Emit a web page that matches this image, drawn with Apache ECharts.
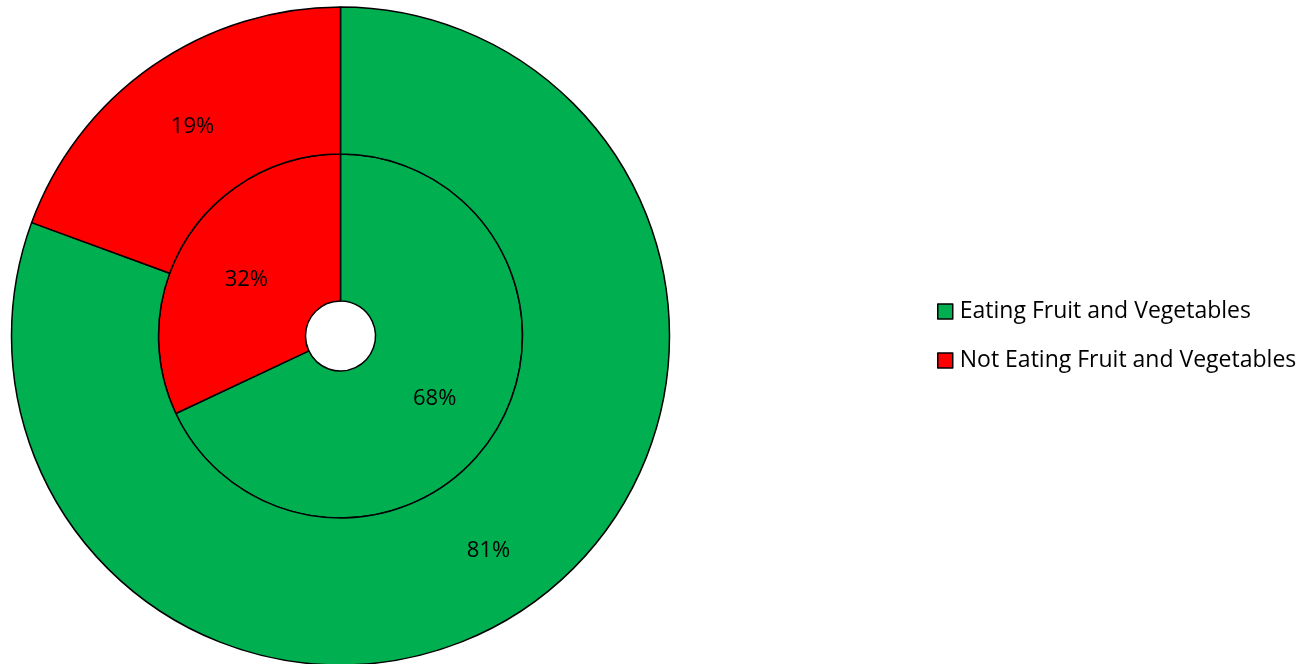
<!DOCTYPE html>
<html><head><meta charset="utf-8">
<script src="https://cdn.jsdelivr.net/npm/echarts@6/dist/echarts.min.js"></script>
<style>html,body{margin:0;padding:0;background:#fff}#c{width:1315px;height:664px}</style>
</head><body><div id="c"></div>
<script>
const categories = ['Eating Fruit and Vegetables', 'Not Eating Fruit and Vegetables'];
const innerValues = [68, 32];
const outerValues = [80.6, 19.4];
const colors = ['#00B050', '#FF0000'];
const FONT = 'Open Sans';

const chart = echarts.init(document.getElementById('c'), null, {renderer: 'canvas'});
const mk = (vals) => categories.map((n, i) => ({name: n, value: vals[i], itemStyle: {color: colors[i]}}));
const label = {show: true, position: 'inside', formatter: (p) => Math.round(p.value) + '%',
  color: '#000', fontSize: 22, fontFamily: FONT, offset: [0, 3]};
chart.setOption({
  animation: false,
  color: colors,
  legend: {
    orient: 'vertical', left: 932, top: 295, itemWidth: 15, itemHeight: 15, itemGap: 26,
    icon: 'rect',
    itemStyle: {borderColor: '#000', borderWidth: 1.5},
    textStyle: {fontSize: 23, fontFamily: FONT, color: '#000', padding: [0, 0, 0, 2]},
    data: categories
  },
  series: [
    {type: 'pie', center: [340.5, 336], radius: [35, 182], startAngle: 90, clockwise: true,
     itemStyle: {borderColor: '#000', borderWidth: 1.5}, label: label, labelLine: {show: false},
     emphasis: {disabled: true}, data: mk(innerValues)},
    {type: 'pie', center: [340.5, 336], radius: [182, 329], startAngle: 90, clockwise: true,
     itemStyle: {borderColor: '#000', borderWidth: 1.5}, label: label, labelLine: {show: false},
     emphasis: {disabled: true}, data: mk(outerValues)}
  ]
});
</script></body></html>
